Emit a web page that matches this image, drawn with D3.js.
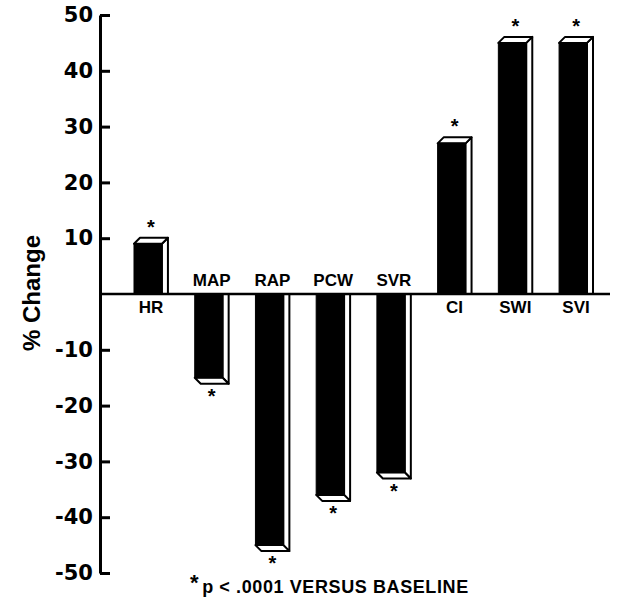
<!DOCTYPE html>
<html>
<head>
<meta charset="utf-8">
<script src="https://cdn.jsdelivr.net/npm/d3@7"></script>
<style>
  html, body { margin: 0; padding: 0; background: #fff; }
  svg { display: block; }
</style>
</head>
<body>
<svg id="chart" width="629" height="600"></svg>
<script>
// Haemodynamic variables and their percent change from baseline
const categories = ["HR", "MAP", "RAP", "PCW", "SVR", "CI", "SWI", "SVI"];
const changes = [9, -15, -45, -36, -32, 27, 45, 45];
const significant = [true, true, true, true, true, true, true, true];
const yTicks = [50, 40, 30, 20, 10, -10, -20, -30, -40, -50];
const yTitle = "% Change";
const footnote = "p < .0001 VERSUS BASELINE";

const svg = d3.select("#chart");

const y = d3.scaleLinear().domain([-50, 50]).range([573, 15]);
const x = d3.scaleBand()
  .domain(categories)
  .range([117.6, 603.4])
  .paddingInner(0.54)
  .paddingOuter(0.27);

const depth = 6;
const y0 = y(0);

// Y axis: ticks point into the plot, labels on the left
const yAxis = d3.axisLeft(y)
  .tickValues(yTicks)
  .tickSizeInner(-10)
  .tickSizeOuter(0)
  .tickPadding(7)
  .tickFormat(d => (d < 0 ? "-" + Math.abs(d) : String(d)));

const gAxis = svg.append("g")
  .attr("transform", "translate(100,0)")
  .call(yAxis);
gAxis.select(".domain").attr("stroke", "#000").attr("stroke-width", 3);
gAxis.selectAll(".tick line").attr("stroke", "#000").attr("stroke-width", 3);
gAxis.selectAll(".tick text")
  .attr("fill", "#000")
  .style("font-family", "'DejaVu Sans', sans-serif")
  .style("font-size", "21px")
  .style("font-weight", "bold");

// Axis title
svg.append("text")
  .attr("transform", "translate(40,293) rotate(-90)")
  .attr("text-anchor", "middle")
  .style("font-family", "'Liberation Sans', Arial, sans-serif")
  .style("font-size", "24px")
  .style("font-weight", "bold")
  .text(yTitle);

const rows = categories.map((c, i) => ({ cat: c, v: changes[i], sig: significant[i] }));

// Pseudo-3D bars: black front face, white side and end faces
const bars = svg.append("g").selectAll("g").data(rows).join("g");

bars.each(function (d) {
  const g = d3.select(this);
  const x0 = x(d.cat), x1 = x0 + x.bandwidth(), yv = y(d.v);
  const pos = d.v >= 0;
  const side = pos
    ? [[x1, yv], [x1 + depth, yv - depth], [x1 + depth, y0], [x1, y0]]
    : [[x1, y0], [x1 + depth, y0], [x1 + depth, yv + depth], [x1, yv]];
  const end = pos
    ? [[x0, yv], [x0 + depth, yv - depth], [x1 + depth, yv - depth], [x1, yv]]
    : [[x0, yv], [x1, yv], [x1 + depth, yv + depth], [x0 + depth, yv + depth]];
  const poly = pts => "M" + pts.map(p => p.join(",")).join("L") + "Z";
  g.append("path").attr("d", poly(side))
    .attr("fill", "#fff").attr("stroke", "#000").attr("stroke-width", 2)
    .attr("stroke-linejoin", "round");
  g.append("path").attr("d", poly(end))
    .attr("fill", "#fff").attr("stroke", "#000").attr("stroke-width", 2)
    .attr("stroke-linejoin", "round");
  g.append("rect")
    .attr("x", x0).attr("y", Math.min(yv, y0))
    .attr("width", x.bandwidth()).attr("height", Math.abs(yv - y0))
    .attr("fill", "#000").attr("stroke", "#000").attr("stroke-width", 1);
});

// Zero line
svg.append("line")
  .attr("x1", 100).attr("x2", 610)
  .attr("y1", y0).attr("y2", y0)
  .attr("stroke", "#000").attr("stroke-width", 2.5);

// Category labels: below the line for increases, above for decreases
svg.append("g").selectAll("text").data(rows).join("text")
  .attr("x", d => x(d.cat) + x.bandwidth() / 2 + depth / 2)
  .attr("y", d => d.v >= 0 ? y0 + 19 : y0 - 8)
  .attr("text-anchor", "middle")
  .style("font-family", "'Liberation Sans', Arial, sans-serif")
  .style("font-size", "17px")
  .style("font-weight", "bold")
  .text(d => d.cat);

// Significance markers
svg.append("g").selectAll("text").data(rows.filter(d => d.sig)).join("text")
  .attr("x", d => x(d.cat) + x.bandwidth() / 2 + depth / 2)
  .attr("y", d => d.v >= 0 ? y(d.v) - depth - 4 : y(d.v) + depth + 19)
  .attr("text-anchor", "middle")
  .style("font-family", "'Liberation Sans', Arial, sans-serif")
  .style("font-size", "20px")
  .style("font-weight", "bold")
  .text("*");

// Footnote
const foot = svg.append("text")
  .attr("x", 190).attr("y", 593)
  .style("font-family", "'Liberation Sans', Arial, sans-serif")
  .style("font-size", "18px")
  .style("font-weight", "bold")
  .style("letter-spacing", "0.6px");
foot.append("tspan").attr("dy", -3).style("font-size", "22px").text("*");
foot.append("tspan").attr("dy", 3).attr("dx", 3).text(footnote);
</script>
</body>
</html>
